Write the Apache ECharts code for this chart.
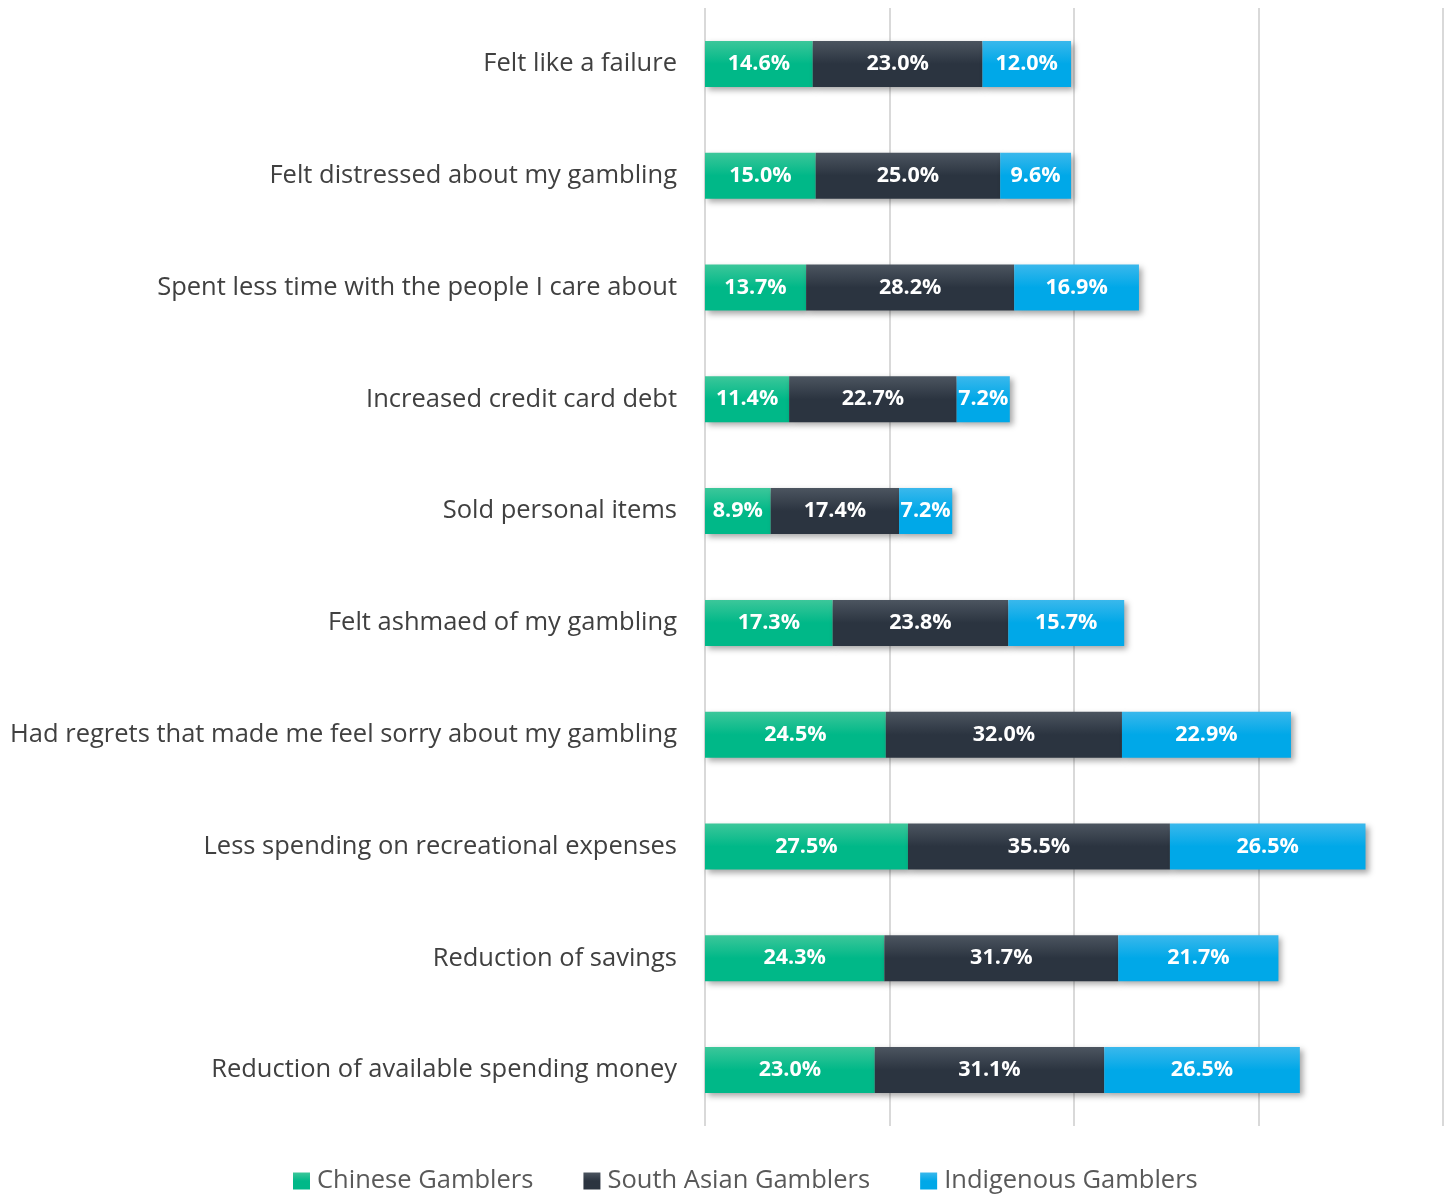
<!DOCTYPE html>
<html>
<head>
<meta charset="utf-8">
<script src="https://cdn.jsdelivr.net/npm/echarts@6/dist/echarts.min.js"></script>
<style>
  html, body { margin: 0; padding: 0; background: #fff; }
  #chart { width: 1450px; height: 1197px; }
</style>
</head>
<body>
<div id="chart"></div>
<script>
var categories = [
  'Felt like a failure',
  'Felt distressed about my gambling',
  'Spent less time with the people I care about',
  'Increased credit card debt',
  'Sold personal items',
  'Felt ashmaed of my gambling',
  'Had regrets that made me feel sorry about my gambling',
  'Less spending on recreational expenses',
  'Reduction of savings',
  'Reduction of available spending money'
];
var chinese = [14.6, 15.0, 13.7, 11.4, 8.9, 17.3, 24.5, 27.5, 24.3, 23.0];
var southAsian = [23.0, 25.0, 28.2, 22.7, 17.4, 23.8, 32.0, 35.5, 31.7, 31.1];
var indigenous = [12.0, 9.6, 16.9, 7.2, 7.2, 15.7, 22.9, 26.5, 21.7, 26.5];

var font = '"Open Sans", sans-serif';

function grad(top, bottom) {
  return new echarts.graphic.LinearGradient(0, 0, 0, 1, [
    { offset: 0, color: top },
    { offset: 0.5, color: bottom },
    { offset: 1, color: bottom }
  ]);
}

function makeSeries(name, data, top, bottom) {
  return {
    name: name,
    type: 'bar',
    stack: 'total',
    barWidth: 46,
    data: data,
    itemStyle: {
      color: grad(top, bottom),
      shadowColor: 'rgba(0,0,0,0.35)',
      shadowBlur: 6,
      shadowOffsetX: 3,
      shadowOffsetY: 3
    },
    label: {
      show: true,
      position: 'inside',
      color: '#fff',
      fontFamily: font,
      fontWeight: 'bold',
      fontSize: 21.5,
      formatter: function (p) { return p.value.toFixed(1) + '%'; }
    },
    emphasis: { disabled: true }
  };
}

var chart = echarts.init(document.getElementById('chart'));
chart.setOption({
  animation: false,
  color: ['#00b888', '#2e3742', '#00a8e8'],
  grid: { left: 705, right: 7, top: 8, bottom: 71, containLabel: false },
  legend: {
    bottom: -2,
    left: 288,
    itemWidth: 17,
    itemHeight: 17,
    itemGap: 50,
    icon: 'rect',
    textStyle: { color: '#595959', fontSize: 25.5, fontFamily: font, padding: [0, 0, 0, 2] },
    data: ['Chinese Gamblers', 'South Asian Gamblers', 'Indigenous Gamblers']
  },
  xAxis: {
    type: 'value',
    min: 0,
    max: 100,
    interval: 25,
    axisLabel: { show: false },
    axisLine: { show: false },
    axisTick: { show: false },
    splitLine: { show: true, lineStyle: { color: '#d9d9d9', width: 2 } }
  },
  yAxis: {
    type: 'category',
    inverse: true,
    data: categories,
    axisLine: { show: false },
    axisTick: { show: false },
    axisLabel: { color: '#404040', fontSize: 25.5, fontFamily: font, margin: 28 }
  },
  series: [
    makeSeries('Chinese Gamblers', chinese, '#3cc79a', '#00b888'),
    makeSeries('South Asian Gamblers', southAsian, '#4c5560', '#2b3440'),
    makeSeries('Indigenous Gamblers', indigenous, '#3ab8ec', '#00a8e8')
  ]
});
</script>
</body>
</html>
